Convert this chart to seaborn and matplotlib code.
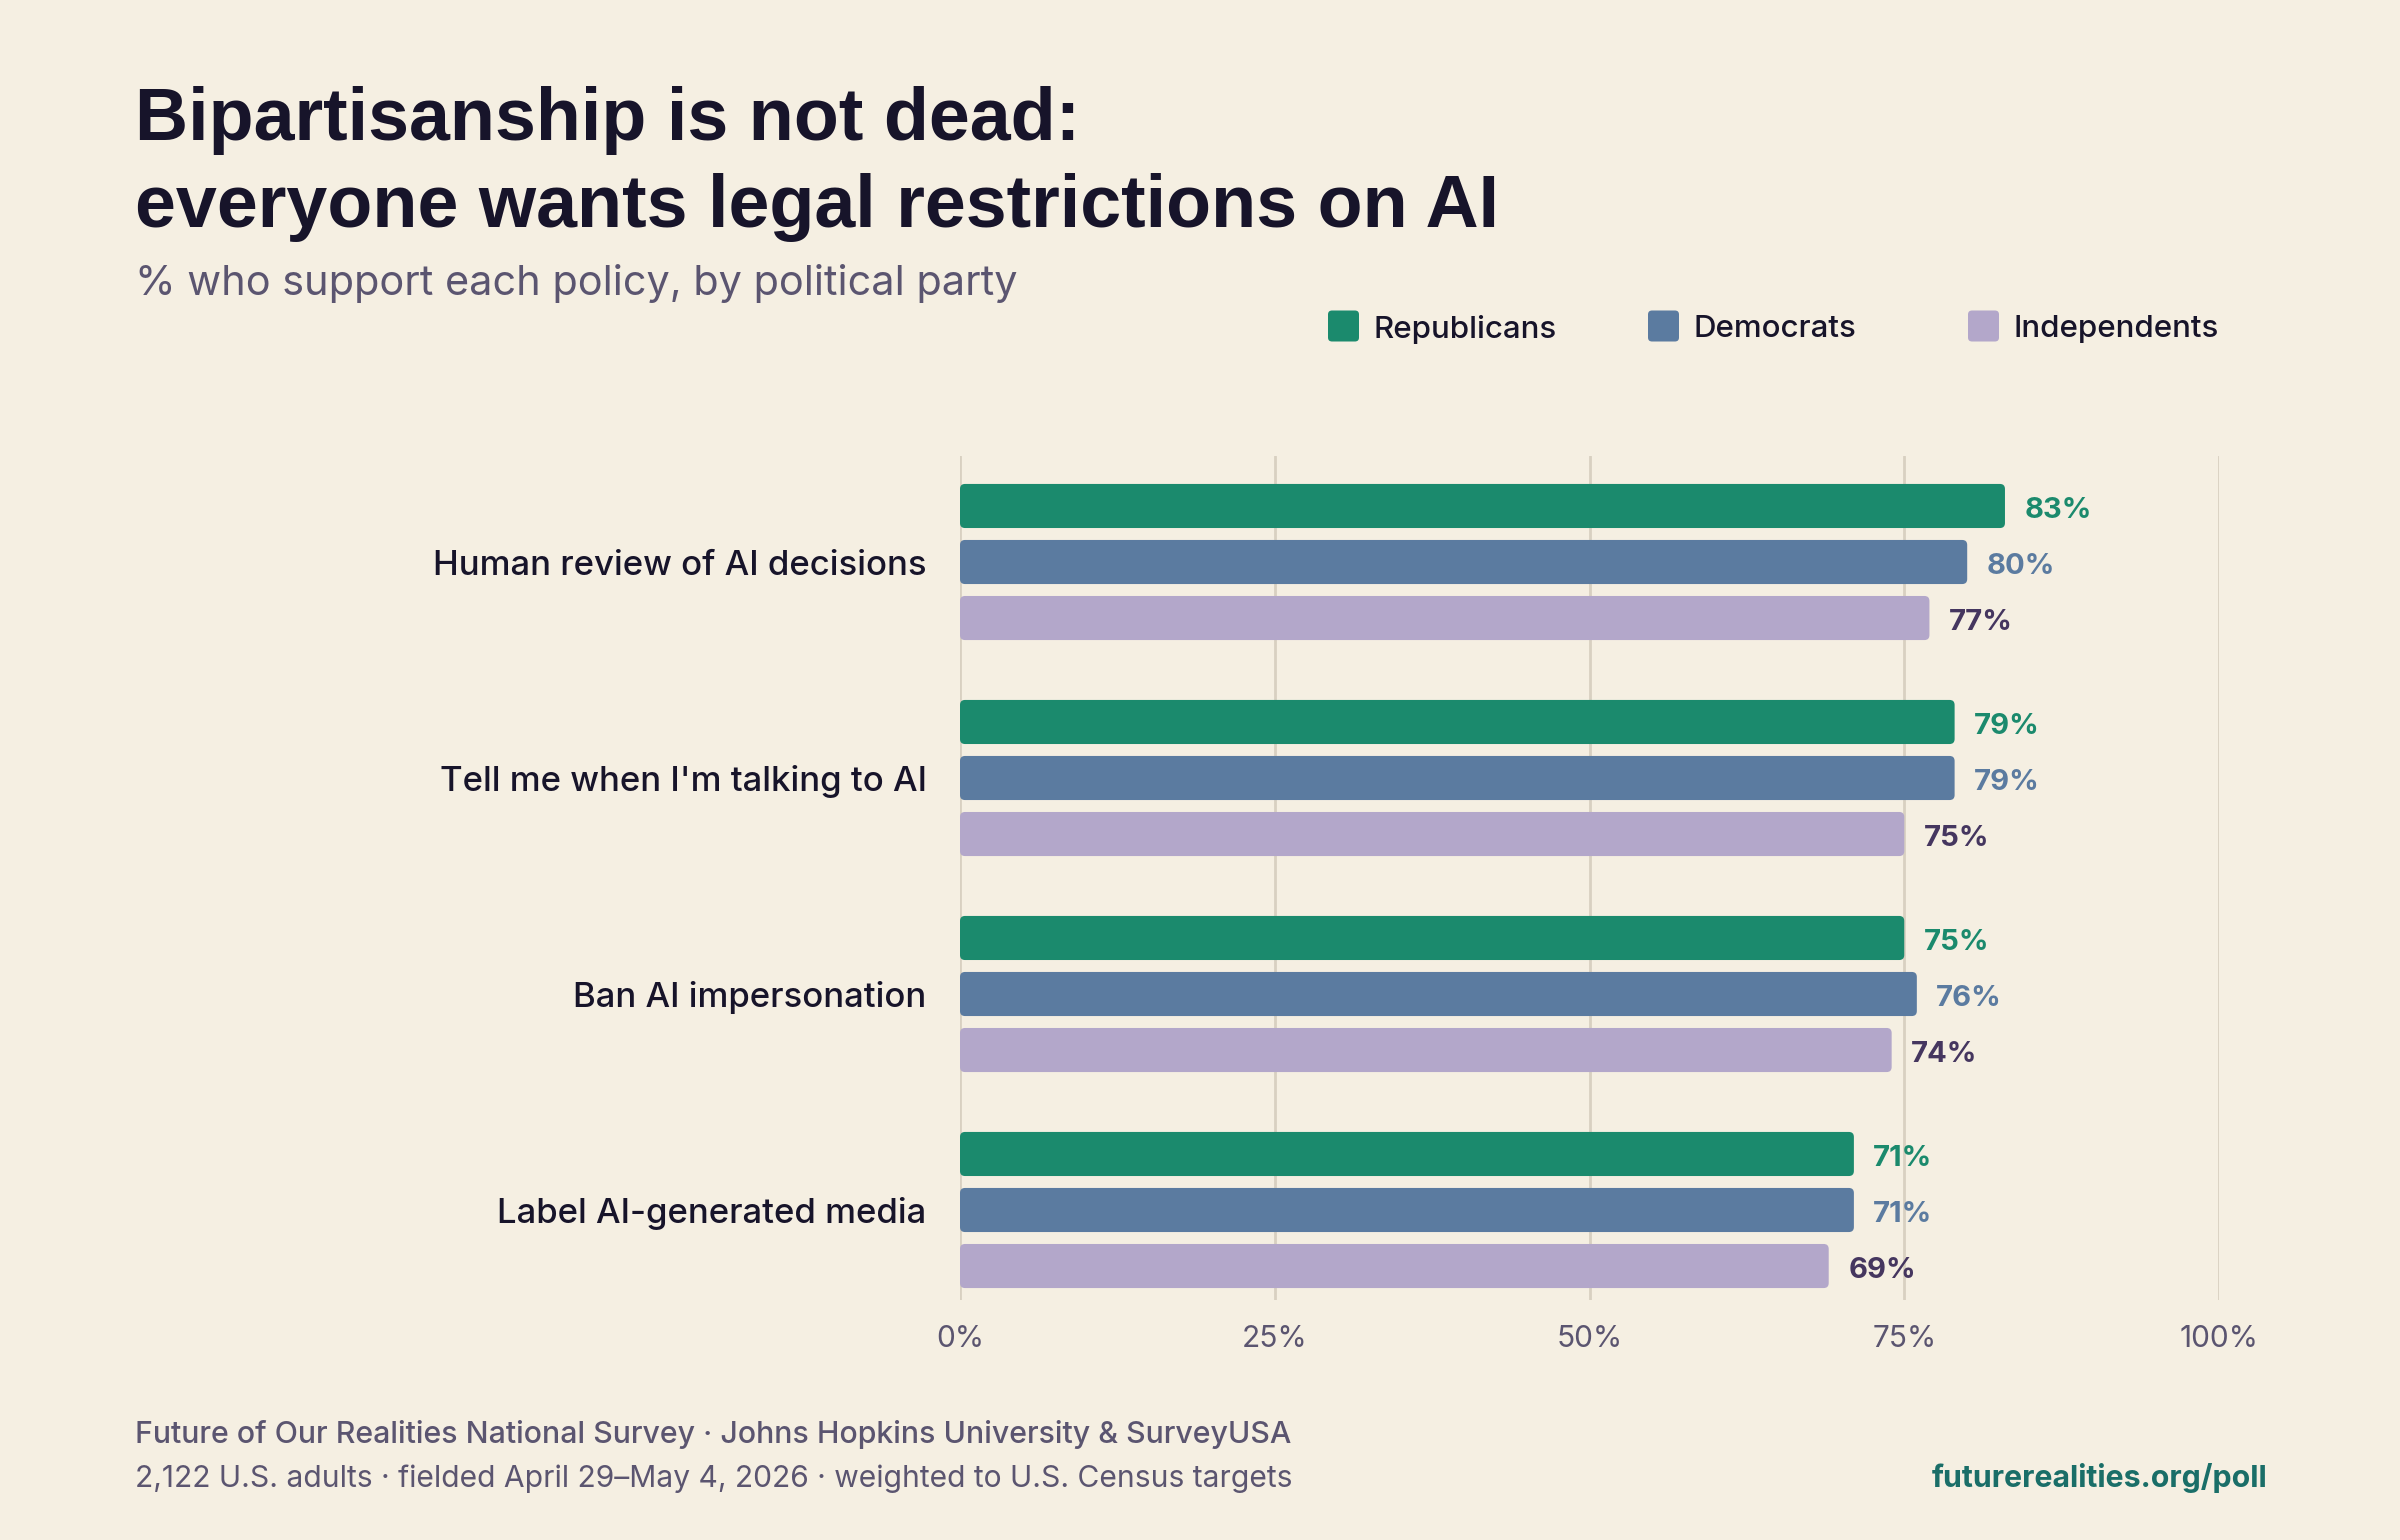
import numpy as np
import pandas as pd
import matplotlib
matplotlib.use("Agg")
import matplotlib.pyplot as plt
from matplotlib.patches import FancyBboxPatch
import seaborn as sns

# ---------------- data ----------------
categories = [
    "Human review of AI decisions",
    "Tell me when I'm talking to AI",
    "Ban AI impersonation",
    "Label AI-generated media",
]
parties = ["Republicans", "Democrats", "Independents"]
republicans = [83, 79, 75, 71]
democrats = [80, 79, 76, 71]
independents = [77, 75, 74, 69]
x_ticks = [0, 25, 50, 75, 100]
x_tick_labels = ["0%", "25%", "50%", "75%", "100%"]

title_line1 = "Bipartisanship is not dead:"
title_line2 = "everyone wants legal restrictions on AI"
subtitle = "% who support each policy, by political party"
footer1 = "Future of Our Realities National Survey \u00b7 Johns Hopkins University & SurveyUSA"
footer2 = "2,122 U.S. adults \u00b7 fielded April 29\u2013May 4, 2026 \u00b7 weighted to U.S. Census targets"
footer_url = "futurerealities.org/poll"

# ---------------- style ----------------
BG = "#f5efe2"
DARK = "#17142a"
MUTED = "#5b5570"
GRID = "#d8d0c1"
bar_colors = ["#1b8a6d", "#5b7ba0", "#b3a7ca"]
label_colors = ["#1b8a6d", "#5b7ba0", "#45365f"]
URL_COLOR = "#1a6e68"
FONT = ["Inter", "DejaVu Sans"]
TITLE_FONT = ["Liberation Sans", "DejaVu Sans"]

sns.set_theme(style="white")
plt.rcParams["font.family"] = FONT

df = pd.DataFrame({
    "policy": categories * 3,
    "party": [p for p in parties for _ in categories],
    "support": republicans + democrats + independents,
})

W, H = 2400, 1540
fig = plt.figure(figsize=(24, 15.4), dpi=100, facecolor=BG)
ax = fig.add_axes([960 / W, 1 - 1300 / H, 1259 / W, 844 / H])
ax.set_facecolor(BG)

sns.barplot(
    data=df, y="policy", x="support", hue="party", order=categories,
    hue_order=parties, palette=bar_colors, orient="h", saturation=1,
    errorbar=None, width=0.778, gap=0.213, linewidth=0, ax=ax, legend=False,
)

ax.set_xlim(0, 100)
ax.set_ylim(3 + 90 / 216, -106 / 216)
ax.set_xlabel("")
ax.set_ylabel("")
for s in ax.spines.values():
    s.set_visible(False)

ax.set_xticks(x_ticks)
ax.set_xticklabels(x_tick_labels)
ax.grid(axis="x", color=GRID, linewidth=2)
ax.grid(axis="y", visible=False)
ax.set_axisbelow(True)
ax.tick_params(axis="x", length=0, pad=18, labelsize=21.5, labelcolor=MUTED)
ax.tick_params(axis="y", length=0, pad=24, labelsize=25, labelcolor=DARK)
for t in ax.get_yticklabels():
    t.set_fontweight("medium")

# value labels
for cont, col in zip(ax.containers, label_colors):
    anns = ax.bar_label(cont, labels=[f"{v:.0f}%" for v in cont.datavalues],
                        padding=14, color=col, fontsize=21, fontweight="bold")
    for a in anns:
        a.xyann = (14, -3)

# rounded bars
fig.canvas.draw()
p0 = ax.transData.transform((0, 0))
p1 = ax.transData.transform((1, 1))
px_x = abs(p1[0] - p0[0])
px_y = abs(p1[1] - p0[1])
radius_px = 5
for cont in ax.containers:
    for bar in cont:
        x, y = bar.get_x(), bar.get_y()
        w, h = bar.get_width(), bar.get_height()
        fb = FancyBboxPatch(
            (x, y), w, h,
            boxstyle=f"round,pad=0,rounding_size={radius_px / px_x}",
            mutation_aspect=px_x / px_y,
            facecolor=bar.get_facecolor(), linewidth=0, zorder=2,
        )
        ax.add_patch(fb)
        bar.set_visible(False)

# legend (equal-width slots)
leg_x0, leg_step, leg_y, sq = 1328, 320, 326, 31
for i, (name, col) in enumerate(zip(parties, bar_colors)):
    lx = leg_x0 + i * leg_step
    fig.patches.append(FancyBboxPatch(
        (lx / W, 1 - (leg_y + sq / 2) / H), sq / W, sq / H,
        boxstyle=f"round,pad=0,rounding_size={4 / W}",
        mutation_aspect=W / H,
        transform=fig.transFigure, facecolor=col, linewidth=0, figure=fig))
    fig.text((lx + 45) / W, 1 - leg_y / H, name, fontsize=22.5, color=DARK,
             fontweight="medium", va="center_baseline", ha="left")

# titles
fig.text(135 / W, 1 - 140 / H, title_line1, fontsize=53, fontweight="bold",
         color=DARK, va="baseline", ha="left", family=TITLE_FONT)
fig.text(135 / W, 1 - 227 / H, title_line2, fontsize=53, fontweight="bold",
         color=DARK, va="baseline", ha="left", family=TITLE_FONT)
fig.text(135 / W, 1 - 295 / H, subtitle, fontsize=29.8, color=MUTED,
         va="baseline", ha="left")

# footer
fig.text(135 / W, 1 - 1443 / H, footer1, fontsize=21.8, color=MUTED,
         fontweight="medium", va="baseline", ha="left")
fig.text(135 / W, 1 - 1487 / H, footer2, fontsize=21.6, color=MUTED,
         va="baseline", ha="left")
fig.text(2267 / W, 1 - 1487 / H, footer_url, fontsize=21.8, color=URL_COLOR,
         fontweight="bold", va="baseline", ha="right")

fig.savefig("out.png", dpi=100, facecolor=BG)
